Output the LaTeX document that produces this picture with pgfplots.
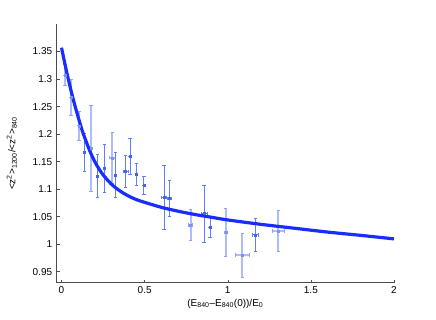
\documentclass[border=0pt]{standalone}
\usepackage{pgfplots}
\pgfplotsset{compat=1.18}
\usepackage{fontspec}
\setmainfont{Liberation Sans}
\definecolor{curveblue}{RGB}{25,45,255}
\definecolor{barthin}{RGB}{95,125,255}
\definecolor{barlight}{RGB}{172,188,255}
\definecolor{markblue}{RGB}{70,95,245}
\begin{document}
\begin{tikzpicture}
\begin{axis}[
  scale only axis, width=337.3pt, height=258.7pt,
  xmin=-0.029, xmax=2, ymin=0.93, ymax=1.4,
  axis lines=left, axis line style={-, draw=black!70, line width=0.5pt},
  tick align=inside, major tick length=3pt,
  tick style={draw=black!70, line width=0.5pt},
  xtick={0,0.5,1,1.5,2},
  ytick={0.95,1,1.05,1.1,1.15,1.2,1.25,1.3,1.35},
  /pgf/number format/assume math mode=true,
  tick label style={font=\fontsize{10}{12}\selectfont, text=black},
  yticklabel style={xshift=-1pt},
  xlabel={(E\textsubscript{840}\textendash E\textsubscript{840}(0))/E\textsubscript{0}},
  ylabel={<z\textsuperscript{2}>\textsubscript{1200}/<z\textsuperscript{2}>\textsubscript{840}},
  label style={font=\fontsize{10}{12}\selectfont},
  xlabel style={yshift=1pt},
  ylabel style={yshift=9pt},
  clip=false,
]
% light thick error bars
\addplot[only marks, mark=square*, mark size=1pt, color=barlight,
  mark options={fill=markblue!70, draw=markblue!70},
  error bars/.cd, x dir=both, y dir=both, x explicit, y explicit,
  error bar style={line width=2pt, color=barlight},
  error mark options={rotate=90, mark size=1.7pt, line width=0.8pt, color=barlight!85!blue}]
  table[x=x, y=y, x error=ex, y error=ey] {
x y ex ey
0.021 1.307 0 0.019
0.057 1.267 0 0.033
0.105 1.215 0 0.026
0.177 1.174 0 0.078
0.305 1.157 0.017 0.046
0.776 1.035 0.012 0.028
0.988 1.021 0.010 0.0435
1.088 0.980 0.042 0.040
1.305 1.024 0.038 0.038
};
% thin error bars
\addplot[only marks, mark=square*, mark size=1pt, color=markblue,
  error bars/.cd, x dir=both, y dir=both, x explicit, y explicit,
  error bar style={line width=0.7pt, color=barthin},
  error mark options={rotate=90, mark size=1.7pt, line width=0.7pt, color=barthin}]
  table[x=x, y=y, x error=ex, y error=ey] {
x y ex ey
0.137 1.167 0 0.035
0.217 1.124 0 0.039
0.257 1.138 0.008 0.044
0.325 1.126 0 0.041
0.385 1.132 0.014 0.029
0.413 1.159 0 0.033
0.452 1.127 0 0.020
0.495 1.107 0 0.017
0.617 1.085 0.014 0.058
0.648 1.083 0.010 0.033
0.858 1.0555 0.018 0.0515
0.894 1.031 0 0.019
1.166 1.017 0.021 0.030
};
% fitted curve
\addplot[curveblue, line width=3.2pt, smooth] coordinates {
(0,1.357) (0.025,1.321) (0.05,1.288) (0.075,1.258) (0.1,1.231)
(0.125,1.206) (0.15,1.185) (0.175,1.166) (0.2,1.150) (0.225,1.137)
(0.25,1.126) (0.3,1.109) (0.35,1.097) (0.4,1.088) (0.45,1.081)
(0.5,1.076) (0.6,1.067) (0.7,1.060) (0.8,1.054) (0.9,1.049)
(1.0,1.044) (1.2,1.036) (1.4,1.029) (1.6,1.022) (1.8,1.016) (2.0,1.0096)
};
\coordinate (sw) at (rel axis cs:0,0);
\end{axis}
\pgfresetboundingbox
\path (sw) ++(-56.7pt,-36.3pt) rectangle ++(436pt,319pt);
\end{tikzpicture}
\end{document}
